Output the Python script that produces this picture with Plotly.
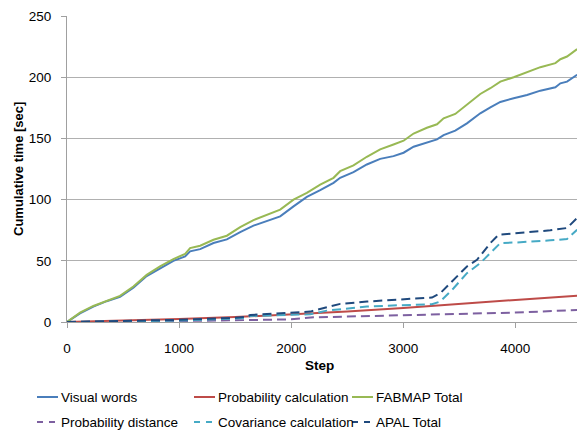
import plotly.graph_objects as go

# ---- data ----
main_steps = [0, 116, 235, 354, 473, 592, 711, 830, 949, 1054, 1098, 1188, 1307, 1426,
              1545, 1664, 1783, 1902, 2021, 2140, 2259, 2378, 2437, 2556, 2675, 2794,
              2913, 3003, 3092, 3211, 3301, 3360, 3464, 3568, 3687, 3777, 3866, 3985,
              4104, 4223, 4357, 4402, 4461, 4551]
visual_words = [0, 7.0, 12.5, 17.0, 20.5, 28.0, 37.5, 44.0, 50.0, 53.6, 57.7, 59.5, 64.5,
                67.5, 73.5, 78.7, 82.2, 86.3, 94.5, 102.2, 107.7, 113.7, 117.8, 122.4,
                128.7, 133.3, 135.5, 138.3, 143.2, 146.4, 149.2, 152.7, 156.3, 162.3,
                170.5, 175.4, 179.8, 182.8, 185.5, 189.0, 191.8, 195.0, 196.4, 202.0]
fabmap_total = [0, 7.6, 13.1, 17.5, 21.3, 29.0, 38.5, 45.4, 51.4, 55.7, 60.4, 62.3, 67.2,
                70.5, 77.5, 83.3, 87.7, 91.8, 100.0, 105.5, 112.3, 117.8, 123.2, 127.9,
                135.0, 141.0, 145.0, 148.1, 154.0, 158.7, 161.5, 166.4, 170.0, 177.3,
                186.3, 191.0, 196.4, 200.0, 203.8, 208.2, 211.5, 214.7, 216.9, 222.9]

prob_calc_steps = [0, 500, 1000, 1500, 2000, 2500, 3000, 3500, 4000, 4551]
prob_calc = [0, 1.0, 2.5, 4.0, 6.0, 8.5, 11.5, 14.5, 18.0, 21.5]

prob_dist_steps = [0, 500, 1000, 1634, 2000, 2200, 2676, 3000, 3420, 4000, 4551]
prob_dist = [0, 0.3, 0.8, 1.6, 2.2, 3.8, 4.9, 5.7, 6.3, 7.7, 9.8]

cov_steps = [0, 500, 1000, 1500, 1600, 1634, 1932, 2170, 2318, 2676, 2973, 3256, 3330,
             3449, 3568, 3687, 3866, 4015, 4312, 4461, 4551]
cov_calc = [0, 0.5, 1.2, 2.8, 3.4, 4.9, 5.7, 6.3, 9.3, 12.6, 13.7, 14.5, 16.7, 27.6,
            39.9, 48.1, 64.5, 65.0, 66.7, 67.8, 75.4]

apal_steps = [0, 500, 1000, 1500, 1600, 1634, 1932, 2170, 2318, 2438, 2676, 2973, 3256,
              3330, 3449, 3568, 3658, 3777, 3851, 4015, 4312, 4461, 4551]
apal_total = [0, 0.8, 1.8, 3.5, 4.2, 5.7, 7.1, 8.5, 12.0, 14.8, 16.7, 18.6, 20.0, 23.5,
              34.4, 45.4, 50.8, 64.5, 71.3, 72.7, 74.9, 76.8, 85.0]

x_ticks = [0, 1000, 2000, 3000, 4000]
y_ticks = [0, 50, 100, 150, 200, 250]

series = [
    ("Visual words", main_steps, visual_words, "#4A7EBB", "solid"),
    ("Probability calculation", prob_calc_steps, prob_calc, "#BE4B48", "solid"),
    ("FABMAP Total", main_steps, fabmap_total, "#98B954", "solid"),
    ("Probability distance", prob_dist_steps, prob_dist, "#7D60A0", "9px,5px"),
    ("Covariance calculation", cov_steps, cov_calc, "#46AAC5", "9px,5px"),
    ("APAL Total", apal_steps, apal_total, "#1F497D", "9px,5px"),
]

FONT = "Liberation Sans"
FS = 13.5
fig = go.Figure()
for name, xs, ys, color, dash in series:
    fig.add_trace(go.Scatter(x=xs, y=ys, mode="lines", name=name,
                             line=dict(color=color, width=2, dash=dash),
                             showlegend=False))

W, H = 578, 430
L, T, R, B = 67, 16, 1, 108
pw, ph = W - L - R, H - T - B


def px_x(px):
    return (px - L) / pw


def px_y(py):
    return (H - B - py) / ph


# manual legend (3 columns x 2 rows)
col_px = [37, 194, 352]
row_px = [397, 422]
for i, (name, xs, ys, color, dash) in enumerate(series):
    c, r = i % 3, i // 3
    yy = px_y(row_px[r])
    fig.add_shape(type="line", xref="paper", yref="paper",
                  x0=px_x(col_px[c]), x1=px_x(col_px[c] + 21), y0=yy, y1=yy,
                  line=dict(color=color, width=2,
                            dash="solid" if dash == "solid" else "6px,6px"))
    fig.add_annotation(xref="paper", yref="paper", x=px_x(col_px[c] + 22), y=yy,
                       text=name, showarrow=False, xanchor="left", yanchor="middle",
                       font=dict(family=FONT, size=FS, color="#000000"))

# axis titles
fig.add_annotation(xref="paper", yref="paper", x=px_x(319), y=px_y(365),
                   text="<b>Step</b>", showarrow=False, xanchor="center", yanchor="middle",
                   font=dict(family=FONT, size=FS, color="#000000"))
fig.add_annotation(xref="paper", yref="paper", x=px_x(18), y=0.5,
                   text="<b>Cumulative time [sec]</b>", showarrow=False, textangle=-90,
                   xanchor="center", yanchor="middle",
                   font=dict(family=FONT, size=13, color="#000000"))

fig.update_layout(
    width=W, height=H,
    margin=dict(l=L, r=R, t=T, b=B, autoexpand=False),
    paper_bgcolor="white", plot_bgcolor="white",
    font=dict(family=FONT, size=FS, color="#000000"),
    showlegend=False,
    xaxis=dict(range=[0, 4550], tickvals=x_ticks, showgrid=False, zeroline=False,
               showline=True, linecolor="#A0A0A0", linewidth=1,
               ticks="outside", ticklen=5, tickcolor="#A0A0A0",
               ticklabelstandoff=9,
               tickfont=dict(family=FONT, size=FS)),
    yaxis=dict(range=[0, 250], tickvals=y_ticks, showgrid=True, gridcolor="#B0B0B0",
               gridwidth=1, zeroline=False,
               showline=True, linecolor="#A0A0A0", linewidth=1,
               ticks="outside", ticklen=5, tickcolor="#A0A0A0",
               ticklabelstandoff=7,
               tickfont=dict(family=FONT, size=FS)),
)

fig.write_html("out.html",
               config={"displayModeBar": False},
               post_script="document.body.style.margin='0';"
                           "document.body.style.overflow='hidden';")
